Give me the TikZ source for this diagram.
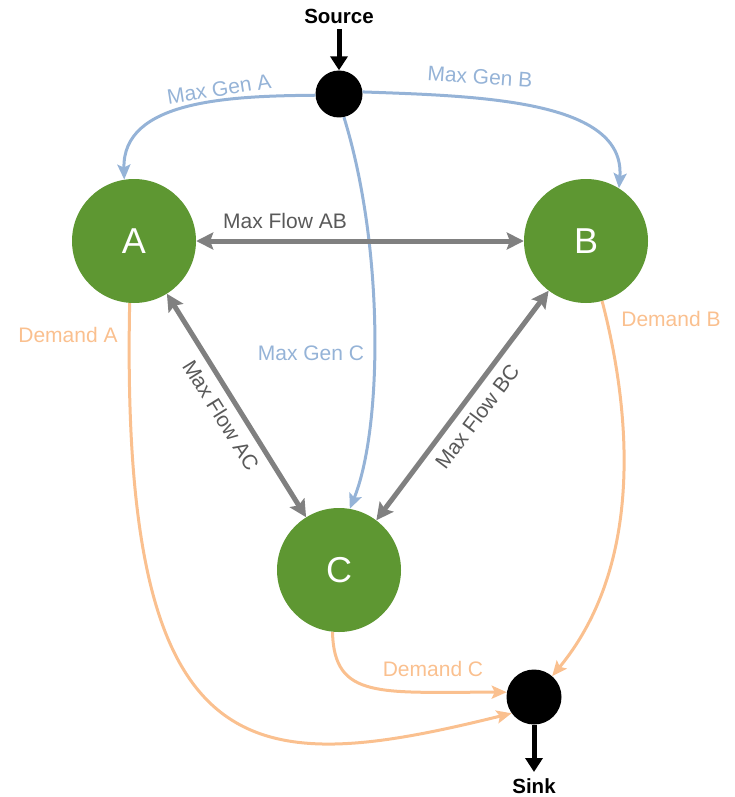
\documentclass[tikz,border=0pt]{standalone}
\usepackage{fontspec}
\setmainfont{Liberation Sans}
\usetikzlibrary{arrows.meta}

\definecolor{busgreen}{HTML}{5E9732}
\definecolor{genblue}{HTML}{95B3D7}
\definecolor{demorange}{HTML}{FAC08F}
\definecolor{flowgray}{HTML}{808080}
\definecolor{textgray}{HTML}{595959}

\begin{document}
\begin{tikzpicture}[x=1pt, y=-1pt,
    bus/.style={circle, fill=busgreen, minimum size=124pt, inner sep=0pt, text=white, font=\fontsize{36}{40}\selectfont},
    terminal/.style={circle, fill=black, inner sep=0pt},
    gen/.style={draw=genblue, line width=3pt, -{Stealth[length=15pt, width=13pt, inset=3pt]}},
    demand/.style={draw=demorange, line width=3pt, -{Stealth[length=15pt, width=13pt, inset=3pt]}},
    flow/.style={draw=flowgray, line width=5pt, {Stealth[length=17pt, width=17pt, inset=3pt]}-{Stealth[length=17pt, width=17pt, inset=3pt]}},
    io/.style={line width=5pt, -{Triangle[length=14pt, width=17pt]}},
    lbl/.style={font=\fontsize{21}{25}\selectfont, inner sep=1pt}]
        \useasboundingbox (0,0) rectangle (734,797);

        % nodes
        \node[bus] (A) at (134,241) {A};
        \node[bus] (B) at (586,241) {B};
        \node[bus] (C) at (339,570) {C};
        \node[terminal, minimum size=47pt] (src) at (339,94) {};
        \node[terminal, minimum size=55pt] (sink) at (534,697) {};
        \node[font=\bfseries\fontsize{20.5}{24}\selectfont] (srclbl) at (339,16) {Source};
        \node[font=\bfseries\fontsize{20.5}{24}\selectfont] (sinklbl) at (534,786) {Sink};
        \coordinate (srcin) at (339,29);
        \coordinate (sinkout) at (534,772);

        % source and sink
        \draw[io] (srcin) -- (src.north);
        \draw[io] (sink.south) -- (sinkout);

        % generation
        \draw[gen] (src.183) .. controls (230,96) and (122,100) .. (A.99);
        \draw[gen] (src.5) .. controls (480,96) and (626,100) .. (B.58);
        \draw[gen] (src.-78) .. controls (385,250) and (382,430) .. (C.80);
        \node[lbl, text=genblue, rotate=9] (genA) at (219,89) {Max Gen A};
        \node[lbl, text=genblue, rotate=-4] (genB) at (480,77) {Max Gen B};
        \node[lbl, text=genblue] (genC) at (311,353) {Max Gen C};

        % line flows
        \draw[flow] (A) -- (B);
        \draw[flow] (A) -- node[lbl, text=textgray, sloped, below=7pt] {Max Flow AC} (C);
        \draw[flow] (C) -- node[lbl, text=textgray, sloped, below=7pt] {Max Flow BC} (B);
        \node[lbl, text=textgray] (flowAB) at (285,221) {Max Flow AB};

        % demand
        \draw[demand] (A.-94) .. controls (120,775) and (250,778) .. (sink.216);
        \draw[demand] (B.-75) .. controls (628,400) and (648,560) .. (sink.49);
        \draw[demand] (C.-96) .. controls (334,700) and (380,692) .. (sink.170);
        \node[lbl, text=demorange] (demA) at (68,335) {Demand A};
        \node[lbl, text=demorange] (demB) at (671,319) {Demand B};
        \node[lbl, text=demorange] (demC) at (433,669) {Demand C};
    \end{tikzpicture}
\end{document}
